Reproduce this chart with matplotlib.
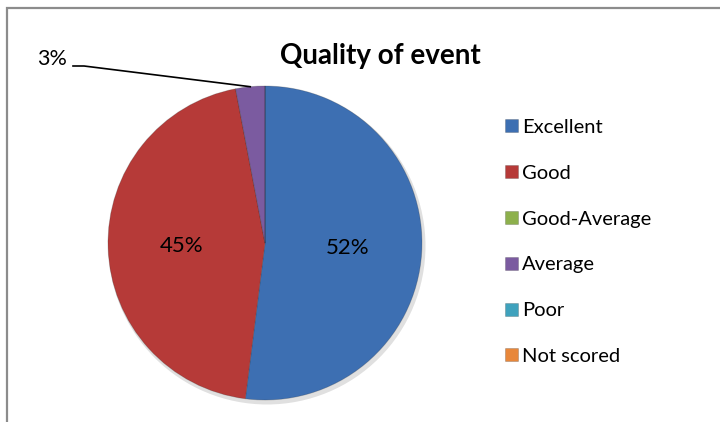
import numpy as np
import matplotlib
matplotlib.use('Agg')
from matplotlib import pyplot as plt
from matplotlib.patches import Rectangle

# data
categories = ["Excellent", "Good", "Good-Average", "Average", "Poor", "Not scored"]
shares = [52, 45, 0, 3, 0, 0]
colors = ["#3D6FB2", "#B63A38", "#8DB04C", "#7B5BA0", "#3FA2BD", "#E8873A"]

plt.rcParams['font.family'] = ['Lato', 'DejaVu Sans']

W, H = 720, 422
fig = plt.figure(figsize=(W / 100, H / 100), dpi=100)
ax = fig.add_axes([0, 0, 1, 1])

# chart frame (cut off at right and bottom in the original)
ax.add_patch(Rectangle((7, -20), 800, H - 8 + 20, fill=False,
                       edgecolor='#8C8C8C', lw=1.6))

cx, cy, r = 265, H - 243, 157

# soft shadow
ax.add_patch(plt.Circle((cx + 2, cy - 3), r + 1.5, color='#000000', alpha=0.12, lw=0))

wedges, _ = ax.pie(shares, colors=colors, startangle=90, counterclock=False,
                   center=(cx, cy), radius=r, frame=True,
                   wedgeprops=dict(linewidth=0.6, edgecolor='#2b2b2b40'))
ax.set_xlim(0, W)
ax.set_ylim(0, H)
ax.set_aspect('equal')
ax.axis('off')

# percentage labels
for w, v in zip(wedges, shares):
    if v == 0:
        continue
    mid = np.deg2rad((w.theta1 + w.theta2) / 2)
    if v >= 10:
        ax.text(cx + 0.53 * r * np.cos(mid), cy + 0.53 * r * np.sin(mid), f"{v}%",
                ha='center', va='center', fontsize=16, color='black')
    else:
        ex, ey = cx + r * np.cos(mid), cy + r * np.sin(mid)
        ax.plot([ex, 84, 73], [ey, H - 66, H - 66], color='black', lw=1.2)
        ax.text(67, H - 59, f"{v}%", ha='right', va='center', fontsize=15.5, color='black')

ax.text(380, H - 56, "Quality of event", ha='center', va='center',
        fontsize=20, fontweight='bold', color='black')

leg = ax.legend(wedges, categories, loc='upper left',
                bbox_to_anchor=(497 / W, 1 - 111 / H), frameon=False,
                fontsize=14.5, handlelength=0.62, handleheight=0.62,
                handletextpad=0.22, labelspacing=1.43, borderaxespad=0)

fig.savefig('out.png', dpi=100)
